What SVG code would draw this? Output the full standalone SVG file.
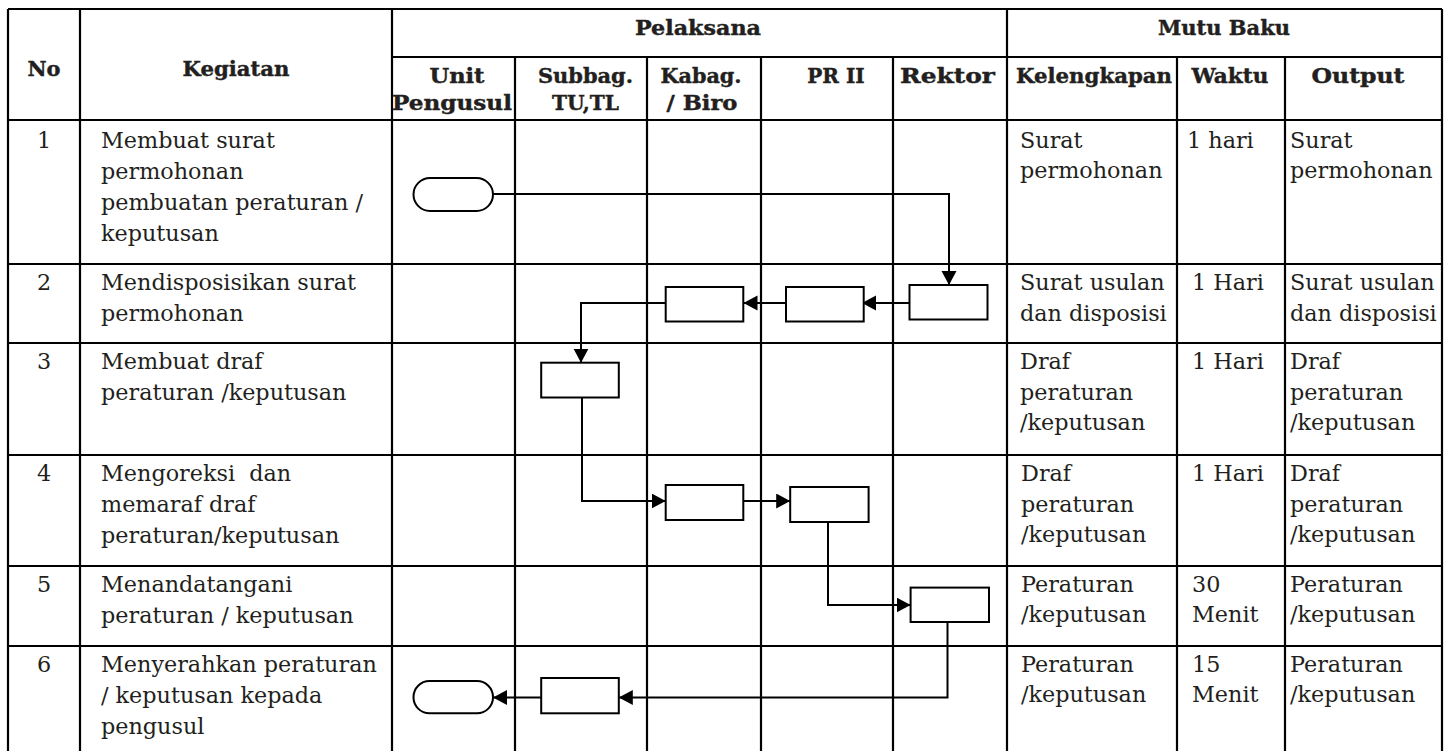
<svg xmlns="http://www.w3.org/2000/svg" width="1456" height="751" viewBox="0 0 1456 751">
<style>
.g{stroke:#000;stroke-width:2.2;fill:none}
.h{font-family:"DejaVu Serif","Liberation Serif",serif;font-weight:bold;font-size:20px;fill:#231f20;stroke:#231f20;stroke-width:0.4}
.hc{text-anchor:middle}
.t{font-family:"DejaVu Serif","Liberation Serif",serif;font-size:22.3px;fill:#231f20}
.n{text-anchor:middle}
.box{fill:#fff;stroke:#000;stroke-width:2}
.c{fill:none;stroke:#000;stroke-width:2;marker-end:url(#ah)}
</style>
<defs>
<marker id="ah" markerUnits="userSpaceOnUse" markerWidth="16" markerHeight="16" refX="14" refY="7.5" orient="auto">
<path d="M0,0 L14,7.5 L0,15 Z" fill="#000"/>
</marker>
</defs>
<rect width="1456" height="751" fill="#fff"/>
<g id="grid" class="g">
<path d="M8,9 H1442 M392,57 H1442 M8,120 H1442 M8,264 H1442 M8,343 H1442 M8,455 H1442 M8,566 H1442 M8,646 H1442"/>
<path d="M8,9 V751 M80,9 V751 M392,9 V751 M1007,9 V751 M1442,9 V751 M515,57 V751 M647,57 V751 M761,57 V751 M893,57 V751 M1177,57 V751 M1285,57 V751"/>
</g>
<g id="headers" class="h hc">
<text x="44" y="76" textLength="33" lengthAdjust="spacingAndGlyphs">No</text>
<text x="236" y="76" textLength="107" lengthAdjust="spacingAndGlyphs">Kegiatan</text>
<text x="698" y="35" textLength="126" lengthAdjust="spacingAndGlyphs">Pelaksana</text>
<text x="1224" y="35" textLength="132" lengthAdjust="spacingAndGlyphs">Mutu Baku</text>
<text x="457" y="83" textLength="55" lengthAdjust="spacingAndGlyphs">Unit</text>
<text x="452" y="110" textLength="120" lengthAdjust="spacingAndGlyphs">Pengusul</text>
<text x="585.5" y="83" textLength="95" lengthAdjust="spacingAndGlyphs">Subbag.</text>
<text x="585.5" y="110" textLength="67" lengthAdjust="spacingAndGlyphs">TU,TL</text>
<text x="701" y="83" textLength="81" lengthAdjust="spacingAndGlyphs">Kabag.</text>
<text x="702" y="110" textLength="71" lengthAdjust="spacingAndGlyphs">/ Biro</text>
<text x="836" y="83">PR II</text>
<text x="947.5" y="83" textLength="95" lengthAdjust="spacingAndGlyphs">Rektor</text>
<text x="1094" y="83" textLength="156" lengthAdjust="spacingAndGlyphs">Kelengkapan</text>
<text x="1230" y="83" textLength="77" lengthAdjust="spacingAndGlyphs">Waktu</text>
<text x="1358" y="83" textLength="93" lengthAdjust="spacingAndGlyphs">Output</text>
</g>
<g id="row1" class="t">
<text class="n" x="44" y="147.5">1</text>
<text x="101" y="147.5">Membuat surat</text>
<text x="101" y="178.5">permohonan</text>
<text x="101" y="209.5">pembuatan peraturan /</text>
<text x="101" y="240.5">keputusan</text>
<text x="1020" y="147.5">Surat</text>
<text x="1020" y="178">permohonan</text>
<text x="1187" y="147.5">1 hari</text>
<text x="1290" y="147.5">Surat</text>
<text x="1290" y="178">permohonan</text>
</g>
<g id="row2" class="t">
<text class="n" x="44" y="290">2</text>
<text x="101" y="290">Mendisposisikan surat</text>
<text x="101" y="321">permohonan</text>
<text x="1020" y="290">Surat usulan</text>
<text x="1020" y="320.5">dan disposisi</text>
<text x="1192" y="290">1 Hari</text>
<text x="1290" y="290">Surat usulan</text>
<text x="1290" y="320.5">dan disposisi</text>
</g>
<g id="row3" class="t">
<text class="n" x="44" y="369">3</text>
<text x="101" y="369">Membuat draf</text>
<text x="101" y="400">peraturan /keputusan</text>
<text x="1020" y="369">Draf</text>
<text x="1020" y="399.5">peraturan</text>
<text x="1020" y="430">/keputusan</text>
<text x="1192" y="369">1 Hari</text>
<text x="1290" y="369">Draf</text>
<text x="1290" y="399.5">peraturan</text>
<text x="1290" y="430">/keputusan</text>
</g>
<g id="row4" class="t">
<text class="n" x="44" y="481">4</text>
<text x="101" y="481" style="white-space:pre">Mengoreksi  dan</text>
<text x="101" y="512">memaraf draf</text>
<text x="101" y="543">peraturan/keputusan</text>
<text x="1021" y="481">Draf</text>
<text x="1021" y="511.5">peraturan</text>
<text x="1021" y="542">/keputusan</text>
<text x="1192" y="481">1 Hari</text>
<text x="1290" y="481">Draf</text>
<text x="1290" y="511.5">peraturan</text>
<text x="1290" y="542">/keputusan</text>
</g>
<g id="row5" class="t">
<text class="n" x="44" y="592">5</text>
<text x="101" y="592">Menandatangani</text>
<text x="101" y="623">peraturan / keputusan</text>
<text x="1021" y="592">Peraturan</text>
<text x="1021" y="622">/keputusan</text>
<text x="1192" y="592">30</text>
<text x="1192" y="622">Menit</text>
<text x="1290" y="592">Peraturan</text>
<text x="1290" y="622">/keputusan</text>
</g>
<g id="row6" class="t">
<text class="n" x="44" y="672">6</text>
<text x="101" y="672">Menyerahkan peraturan</text>
<text x="101" y="703">/ keputusan kepada</text>
<text x="101" y="734">pengusul</text>
<text x="1021" y="672">Peraturan</text>
<text x="1021" y="702">/keputusan</text>
<text x="1192" y="672">15</text>
<text x="1192" y="702">Menit</text>
<text x="1290" y="672">Peraturan</text>
<text x="1290" y="702">/keputusan</text>
</g>
<g id="connectors">
<path class="c" d="M493,194 H949 V285"/>
<path class="c" d="M909.5,303 H862"/>
<path class="c" d="M786,303 H743.5"/>
<path class="c" d="M665.7,303 H581 V362.7"/>
<path class="c" d="M582,397.5 V501 H665.7"/>
<path class="c" d="M743.3,501 H790.2"/>
<path class="c" d="M828,522 V605 H910.6"/>
<path class="c" d="M947.5,622 V697.5 H618.8"/>
<path class="c" d="M541.2,697.5 H493"/>
</g>
<g id="n1"><rect class="box" x="413.5" y="178" width="79.5" height="33" rx="16.5"/></g>
<g id="n2"><rect class="box" x="909.5" y="285" width="78" height="34.5"/></g>
<g id="n3"><rect class="box" x="786" y="287" width="77.7" height="34.5"/></g>
<g id="n4"><rect class="box" x="665.7" y="287" width="77.6" height="34.5"/></g>
<g id="n5"><rect class="box" x="541.2" y="362.7" width="77.6" height="34.8"/></g>
<g id="n6"><rect class="box" x="665.7" y="485" width="77.6" height="35"/></g>
<g id="n7"><rect class="box" x="790.2" y="487" width="78.4" height="35"/></g>
<g id="n8"><rect class="box" x="910.6" y="587.6" width="78.4" height="34.4"/></g>
<g id="n9"><rect class="box" x="541.2" y="678" width="77.6" height="35.3"/></g>
<g id="n10"><rect class="box" x="413.5" y="681" width="79.5" height="32.3" rx="16"/></g>
</svg>
